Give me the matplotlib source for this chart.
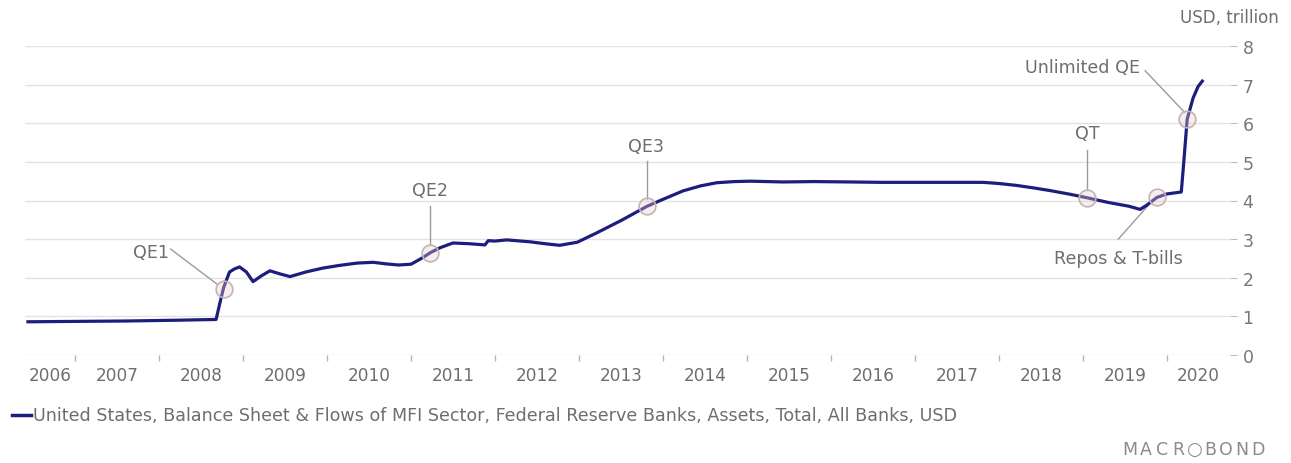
import numpy as np
import matplotlib.pyplot as plt

# Fed total assets, USD trillion, by fractional year
years = [2006.44, 2007.00, 2007.60, 2008.20, 2008.68, 2008.72, 2008.77, 2008.84,
         2008.90, 2008.96, 2009.04, 2009.12, 2009.22, 2009.32, 2009.44, 2009.56,
         2009.75, 2009.95, 2010.15, 2010.36, 2010.55, 2010.70, 2010.85, 2011.00,
         2011.14, 2011.23, 2011.35, 2011.50, 2011.70, 2011.88, 2011.92, 2012.00,
         2012.14, 2012.42, 2012.60, 2012.77, 2012.98, 2013.20, 2013.50, 2013.81,
         2014.00, 2014.24, 2014.45, 2014.64, 2014.85, 2015.04, 2015.43, 2015.80,
         2016.23, 2016.60, 2017.02, 2017.40, 2017.81, 2018.00, 2018.21, 2018.40,
         2018.60, 2018.85, 2019.05, 2019.30, 2019.55, 2019.68, 2019.76, 2019.88,
         2020.00, 2020.17, 2020.20, 2020.24, 2020.31, 2020.37, 2020.42]
assets = [0.86, 0.87, 0.88, 0.90, 0.92, 1.30, 1.75, 2.15,
          2.23, 2.28, 2.15, 1.90, 2.05, 2.18, 2.10, 2.03,
          2.15, 2.25, 2.32, 2.38, 2.40, 2.36, 2.33, 2.35,
          2.52, 2.65, 2.78, 2.90, 2.88, 2.85, 2.96, 2.95,
          2.98, 2.93, 2.88, 2.84, 2.92, 3.15, 3.48, 3.85,
          4.03, 4.25, 4.38, 4.46, 4.49, 4.50, 4.48, 4.49,
          4.48, 4.47, 4.47, 4.47, 4.47, 4.44, 4.39, 4.33,
          4.26, 4.16, 4.07, 3.95, 3.85, 3.77, 3.88, 4.08,
          4.17, 4.22, 5.00, 6.10, 6.65, 6.95, 7.09]

# annotated events: marker position, label position, leader line ends
events = ["QE1", "QE2", "QE3", "QT", "Repos & T-bills", "Unlimited QE"]
event_x = [2008.77, 2011.23, 2013.81, 2019.05, 2019.88, 2020.24]
event_y = [1.70, 2.65, 3.85, 4.07, 4.08, 6.10]
label_x = [2007.90, 2011.23, 2013.80, 2019.05, 2019.42, 2018.99]
label_y = [2.67, 4.28, 5.42, 5.75, 2.52, 7.46]
lead_x0 = [2008.14, 2011.23, 2013.81, 2019.05, 2019.42, 2019.74]
lead_y0 = [2.74, 3.85, 5.02, 5.30, 3.00, 7.36]
lead_x1 = [2008.70, 2011.23, 2013.81, 2019.05, 2019.80, 2020.21]
lead_y1 = [1.82, 2.85, 4.05, 4.27, 3.93, 6.28]

year_labels = list(range(2006, 2021))
y_ticks = list(range(0, 9))

legend_text = ("United States, Balance Sheet & Flows of MFI Sector, Federal Reserve Banks, "
               "Assets, Total, All Banks, USD")
brand = "MACR\u25cbBOND"

plt.rcParams['font.family'] = ['DejaVu Sans']
grey = '#6e6e6e'
navy = '#1d1d7e'

W, H = 1291, 464
fig = plt.figure(figsize=(W / 100, H / 100), dpi=100)
ax = fig.add_axes([25 / W, (H - 356) / H, 1205 / W, 309 / H])

x0, x1 = 2006.405, 2020.75
ax.set_xlim(x0, x1)
ax.set_ylim(0, 8)

ax.plot(years, assets, color=navy, lw=2.3, solid_joinstyle='round', zorder=3)

# event markers, leader lines and labels
ax.plot(event_x, event_y, 'o', ms=12, mfc=(0.93, 0.80, 0.80, 0.35),
        mec='#c4b3b3', mew=1.2, zorder=4, clip_on=False)
for i, name in enumerate(events):
    ax.plot([lead_x0[i], lead_x1[i]], [lead_y0[i], lead_y1[i]],
            color='#9a9a9a', lw=1, zorder=2)
    ax.text(label_x[i], label_y[i], name, ha='center', va='center',
            fontsize=12.6, color=grey, clip_on=False)

# grid and spines
for s in ax.spines.values():
    s.set_visible(False)
ax.set_yticks(y_ticks)
ax.yaxis.tick_right()
ax.tick_params(axis='y', length=5, width=0.8, color='#bdbdbd', pad=4,
               labelsize=12.5, labelcolor='#777777')
ax.grid(axis='y', color='#e3e3e3', lw=1)

# year boundary ticks, labels centred in each visible year
ax.set_xticks(range(2007, 2021))
ax.set_xticklabels([])
ax.tick_params(axis='x', length=4, width=1, color='#b5b5b5', direction='out', pad=0)
for yr in year_labels:
    lo, hi = max(yr, x0), min(yr + 1, x1)
    ax.text((lo + hi) / 2, -0.52, str(yr), ha='center', va='center',
            fontsize=12.2, color=grey)

fig.text(1279 / W, 1 - 18 / H, "USD, trillion", ha='right', va='center',
         fontsize=12, color=grey)

# legend line and series name
fig.add_artist(plt.Line2D([12 / W, 31 / W], [1 - 416 / H] * 2, color=navy, lw=2.5))
fig.text(33 / W, 1 - 416 / H, legend_text, ha='left', va='center',
         fontsize=12.6, color=grey)

# source mark, letters spread out
for i, ch in enumerate(brand):
    fig.text((1130 + 16 * i) / W, 1 - 450 / H, ch, ha='center', va='center',
             fontsize=12.5 if ch != "\u25cb" else 13, color='#8a8a8a')

fig.savefig('out.png', dpi=100)
